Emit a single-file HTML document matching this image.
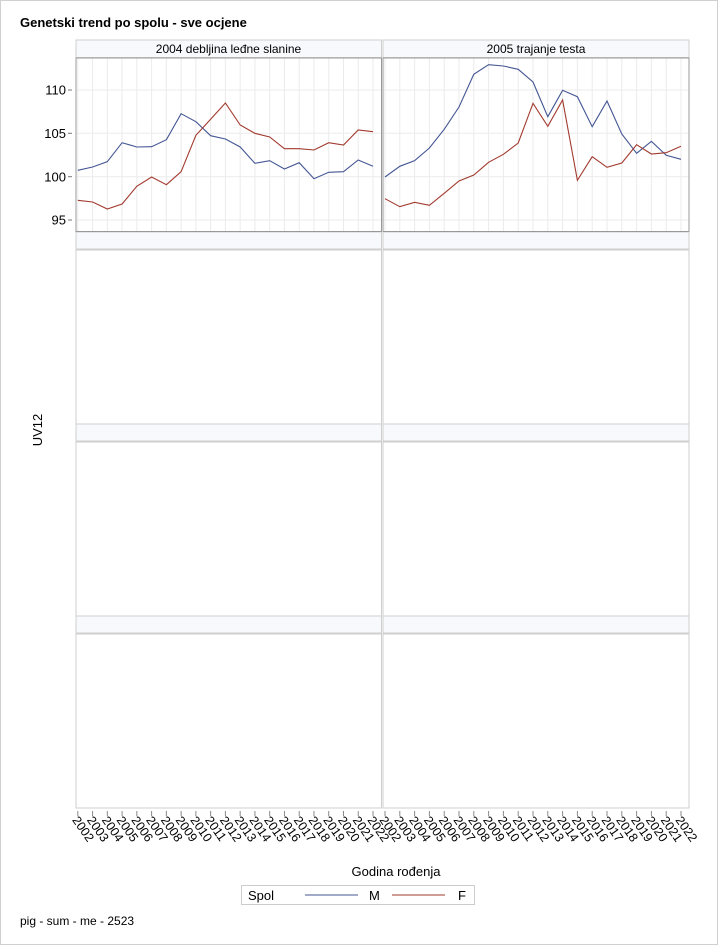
<!DOCTYPE html>
<html><head><meta charset="utf-8"><style>body{margin:0;background:#fff}svg{display:block;font-family:"Liberation Sans",sans-serif}</style></head><body>
<svg width="718" height="945" viewBox="0 0 718 945" xmlns="http://www.w3.org/2000/svg">
<rect x="0.5" y="0.5" width="717" height="944" fill="#fff" stroke="#d0d0d0"/>
<text x="20" y="27" font-size="13" font-weight="bold">Genetski trend po spolu - sve ocjene</text>
<g fill="#f8f9fd" stroke="#cfcfcf" stroke-width="1">
<rect x="76" y="40" width="305.5" height="17.5"/><rect x="383" y="40" width="306" height="17.5"/>
<rect x="76" y="232" width="305.5" height="17"/><rect x="383" y="232" width="306" height="17"/>
<rect x="76" y="424" width="305.5" height="17"/><rect x="383" y="424" width="306" height="17"/>
<rect x="76" y="616" width="305.5" height="17"/><rect x="383" y="616" width="306" height="17"/>
</g>
<g fill="none" stroke="#cfcfcf">
<rect x="76" y="250" width="305.5" height="174"/><rect x="383" y="250" width="306" height="174"/>
<rect x="76" y="442" width="305.5" height="174"/><rect x="383" y="442" width="306" height="174"/>
<rect x="76" y="634" width="305.5" height="174"/><rect x="383" y="634" width="306" height="174"/>
</g>
<g stroke="#ebebeb">
<line x1="76" x2="381" y1="90" y2="90"/><line x1="76" x2="381" y1="133.3" y2="133.3"/><line x1="76" x2="381" y1="176.7" y2="176.7"/><line x1="76" x2="381" y1="220" y2="220"/>
<line x1="383" x2="689" y1="90" y2="90"/><line x1="383" x2="689" y1="133.3" y2="133.3"/><line x1="383" x2="689" y1="176.7" y2="176.7"/><line x1="383" x2="689" y1="220" y2="220"/>
</g>
<g id="vg" stroke="#ebebeb"></g>
<rect x="76" y="58" width="305.5" height="173.5" fill="none" stroke="#999"/>
<rect x="383" y="58" width="306" height="173.5" fill="none" stroke="#999"/>
<text x="228.5" y="53" font-size="12" text-anchor="middle">2004 debljina leđne slanine</text>
<text x="536" y="53" font-size="12" text-anchor="middle">2005 trajanje testa</text>
<g font-size="13" text-anchor="end">
<text x="66" y="94.5">110</text><text x="66" y="138">105</text><text x="66" y="181.5">100</text><text x="66" y="224.5">95</text>
</g>
<g stroke="#777"><line x1="68" x2="72" y1="90" y2="90"/><line x1="68" x2="72" y1="133.3" y2="133.3"/><line x1="68" x2="72" y1="176.7" y2="176.7"/><line x1="68" x2="72" y1="220" y2="220"/></g>
<text transform="translate(42,430) rotate(-90)" font-size="13" text-anchor="middle">UV12</text>
<g id="series" fill="none" stroke-width="1.1"></g>
<g id="ticks" stroke="#888"></g>
<g id="tl" font-size="12.5"></g>
<text x="396" y="876" font-size="13" text-anchor="middle">Godina rođenja</text>
<rect x="241.5" y="885.5" width="233" height="19" fill="#fff" stroke="#ccc"/>
<text x="248" y="900" font-size="13">Spol</text>
<line x1="305" x2="358" y1="895" y2="895" stroke="#445694"/>
<text x="369" y="900" font-size="13">M</text>
<line x1="392" x2="445" y1="895" y2="895" stroke="#A23A2E"/>
<text x="458" y="900" font-size="13">F</text>
<text x="20" y="925" font-size="12">pig - sum - me - 2523</text>
<script>
var ns="http://www.w3.org/2000/svg";
function el(p,t,a,txt){var e=document.createElementNS(ns,t);for(var k in a)e.setAttribute(k,a[k]);if(txt)e.textContent=txt;document.getElementById(p).appendChild(e);}
var LM=[140.3,137,131.7,112.7,117,116.7,109.7,83.7,91.7,105.7,109,117,133.3,130.7,139,132.7,148.7,142.3,141.7,130,136.3].map(function(v){return +(v+30).toFixed(1);});
var LF=[200.3,202,209,204,186.3,177,184.7,171.7,135.3,119.3,103,125,133.3,137,148.7,148.7,150,142.7,145,130,131.7];
var RM=[177,166.3,160.7,148,129.3,107,74.3,64.7,66,69.3,82,116.7,90.3,96.7,126.7,101,134,153.3,141.3,155.3,159.3];
var RF=[198.7,206.7,202.3,205.3,193.3,181,175,162.3,154.3,143,103.3,126.3,100,180.3,156.7,167.3,163,144.7,154,152.7,146.3];
function xs(p,i){return p==0?77.8+i*14.76:385+i*14.8;}
function poly(p,d,c){var s=d.map(function(v,i){return xs(p,i).toFixed(1)+","+v;}).join(" ");el("series","polyline",{points:s,stroke:c});}
for(var p=0;p<2;p++)for(var i=0;i<21;i++){var x=xs(p,i);el("vg","line",{x1:x,x2:x,y1:58,y2:231.5});el("ticks","line",{x1:x,x2:x,y1:811,y2:816});
el("tl","text",{transform:"translate("+(x-6)+",820) rotate(55)"},String(2002+i));}
poly(0,LM,"#445694");poly(0,LF,"#A23A2E");poly(1,RM,"#445694");poly(1,RF,"#A23A2E");
</script>
</svg>
</body></html>
